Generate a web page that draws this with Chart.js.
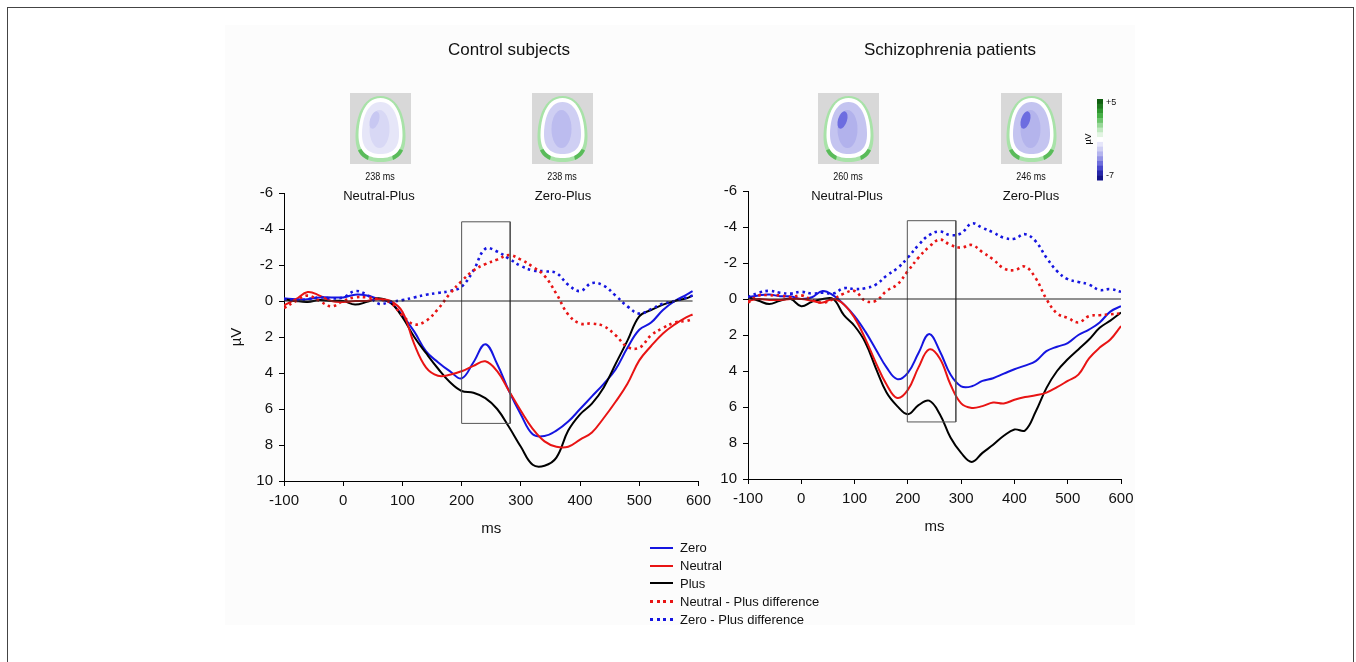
<!DOCTYPE html>
<html>
<head>
<meta charset="utf-8">
<script src="https://cdn.jsdelivr.net/npm/chart.js@4/dist/chart.umd.min.js"></script>
<style>
  body { margin: 0; background: #fff; width: 1356px; height: 662px; position: relative; overflow: hidden; font-family: "Liberation Sans", Arial, sans-serif; }
  .frame { position: absolute; left: 7px; top: 7px; width: 1347px; height: 700px; border: 1.5px solid #444; box-sizing: border-box; }
  .panel { position: absolute; left: 225px; top: 25px; width: 910px; height: 600px; background: #fcfcfc; }
  canvas { position: absolute; }
  .title { position: absolute; top: 40px; font-size: 17px; color: #111; transform: translateX(-50%); white-space: nowrap; }
  .ms { position: absolute; top: 171px; font-size: 10px; color: #111; transform: translateX(-50%) scaleX(0.9); white-space: nowrap; }
  .cond { position: absolute; top: 188px; font-size: 13px; color: #111; transform: translateX(-50%); white-space: nowrap; }
  .legend { position: absolute; left: 650px; top: 539px; font-size: 13px; color: #111; }
  .legend div { height: 17.8px; display: flex; align-items: center; }
  .legend span.ln { display: inline-block; width: 23px; margin-right: 7px; }
  .cb { position: absolute; font-size: 9px; color: #111; }
</style>
</head>
<body>
<div class="frame"></div>
<div class="panel"></div>
<canvas id="topo" width="1356" height="200" style="left:0;top:0"></canvas>
<div class="title" style="left:509px">Control subjects</div>
<div class="title" style="left:950px">Schizophrenia patients</div>
<div class="ms" style="left:380px">238 ms</div>
<div class="ms" style="left:562px">238 ms</div>
<div class="ms" style="left:848px">260 ms</div>
<div class="ms" style="left:1031px">246 ms</div>
<div class="cond" style="left:379px">Neutral-Plus</div>
<div class="cond" style="left:563px">Zero-Plus</div>
<div class="cond" style="left:847px">Neutral-Plus</div>
<div class="cond" style="left:1031px">Zero-Plus</div>
<div class="cb" style="left:1106px;top:97px">+5</div>
<div class="cb" style="left:1106px;top:170px">-7</div>
<div class="cb" style="left:1082px;top:134px;transform:rotate(-90deg)">µV</div>
<canvas id="controlChart" width="497" height="364" style="left:220px;top:178px"></canvas>
<canvas id="patientChart" width="425" height="364" style="left:715px;top:176px"></canvas>
<div class="legend">
  <div><span class="ln" style="border-top:2px solid #1515e0"></span>Zero</div>
  <div><span class="ln" style="border-top:2px solid #e81414"></span>Neutral</div>
  <div><span class="ln" style="border-top:2px solid #000"></span>Plus</div>
  <div><span class="ln" style="border-top:3px dotted #e81414"></span>Neutral - Plus difference</div>
  <div><span class="ln" style="border-top:3px dotted #1515e0"></span>Zero - Plus difference</div>
</div>
<script>
// time points (ms)
const controlTimes = [-100,-80,-60,-40,-20,0,20,40,60,80,100,120,140,160,180,200,220,240,260,280,300,320,340,360,380,400,420,440,460,480,500,520,540,560,580,590];
const patientTimes = [-100,-80,-60,-40,-20,0,20,40,60,80,100,120,140,160,180,200,220,240,260,280,300,320,340,360,380,400,420,440,460,480,500,520,540,560,580,600];

// Control subjects (µV)
const controlZero = [-0.15,-0.1,-0.1,-0.2,-0.2,-0.2,-0.35,-0.3,-0.1,0.1,0.8,1.7,2.8,3.4,3.9,4.3,3.4,2.4,3.5,5.0,6.3,7.4,7.5,7.2,6.7,6.0,5.3,4.6,3.8,2.6,1.6,1.2,0.5,0.0,-0.35,-0.55];
const controlNeutral = [0.25,-0.1,-0.5,-0.3,0.0,0.05,0.0,0.0,-0.1,0.0,0.6,2.4,3.7,4.15,4.1,3.9,3.6,3.35,3.9,5.0,6.1,7.1,7.8,8.1,8.1,7.7,7.3,6.5,5.6,4.6,3.3,2.5,1.8,1.3,0.9,0.75];
const controlPlus = [-0.1,0.0,0.05,-0.05,0.0,0.0,0.2,0.05,-0.15,0.1,0.9,2.0,2.9,3.75,4.5,5.0,5.1,5.4,6.0,7.0,8.1,9.1,9.15,8.7,7.2,6.3,5.7,4.8,3.5,2.2,0.85,0.5,0.2,0.0,-0.15,-0.3];
const controlNeutralDiff = [0.4,0.0,-0.3,0.0,0.3,0.0,-0.2,-0.2,-0.1,0.1,0.8,1.3,1.1,0.45,-0.4,-1.1,-1.7,-2.05,-2.3,-2.55,-2.3,-1.9,-1.4,-0.4,0.75,1.25,1.25,1.4,1.9,2.55,2.6,1.9,1.5,1.2,1.1,1.0];
const controlZeroDiff = [-0.1,-0.05,-0.1,-0.2,-0.15,-0.2,-0.55,-0.35,0.15,0.05,-0.05,-0.2,-0.35,-0.45,-0.55,-0.8,-1.7,-2.9,-2.75,-2.35,-1.95,-1.7,-1.65,-1.55,-0.9,-0.55,-1.0,-0.85,-0.3,0.3,0.7,0.45,0.15,0.0,-0.2,-0.3];

// Schizophrenia patients (µV)
const patientZero = [-0.1,-0.2,-0.25,-0.15,-0.15,0.0,-0.1,-0.45,-0.2,0.3,0.95,1.8,2.8,3.8,4.45,4.1,3.0,1.95,2.9,4.2,4.85,4.85,4.55,4.4,4.15,3.9,3.7,3.45,2.9,2.65,2.45,2.0,1.7,1.3,0.7,0.4];
const patientNeutral = [0.1,0.0,0.05,0.05,0.0,0.0,0.1,0.2,0.0,0.3,1.05,2.2,3.55,4.75,5.5,5.05,3.8,2.8,3.3,4.75,5.8,6.05,5.95,5.75,5.8,5.6,5.45,5.35,5.2,4.9,4.55,4.2,3.3,2.7,2.25,1.5];
const patientPlus = [-0.1,0.1,0.28,0.1,0.0,0.4,0.15,0.0,0.0,0.9,1.5,2.4,3.85,5.2,5.95,6.4,5.9,5.65,6.4,7.7,8.55,9.05,8.55,8.1,7.6,7.25,7.3,6.25,4.95,4.0,3.35,2.8,2.25,1.6,1.2,0.75];
const patientNeutralDiff = [0.2,-0.2,-0.2,-0.2,-0.1,-0.2,0.05,0.2,0.0,-0.3,-0.45,0.1,0.1,-0.45,-0.8,-1.55,-2.3,-2.9,-3.3,-3.0,-2.85,-3.0,-2.6,-2.2,-1.7,-1.6,-1.8,-1.15,0.0,0.8,1.05,1.3,0.95,0.9,0.85,0.8];
const patientZeroDiff = [-0.1,-0.35,-0.45,-0.35,-0.3,-0.4,-0.3,-0.35,-0.3,-0.6,-0.55,-0.6,-0.8,-1.3,-1.7,-2.3,-3.0,-3.55,-3.75,-3.55,-3.65,-4.2,-3.95,-3.7,-3.4,-3.35,-3.6,-3.2,-2.3,-1.55,-1.1,-0.95,-0.8,-0.5,-0.55,-0.4];

// analysis window [start, end, top, bottom]
const controlWindow = [200, 282, -4.4, 6.8];
const patientWindow = [199, 290, -4.35, 6.83];

const xTicks = [-100, 0, 100, 200, 300, 400, 500, 600];
const yTicks = [-6, -4, -2, 0, 2, 4, 6, 8, 10];

const BLUE = '#1515e0', RED = '#e81414', BLACK = '#000';

function pts(times, vals) {
    return times.map((t, i) => ({ x: t, y: vals[i] }));
}

function windowBox(w) {
    return [{x: w[0], y: w[2]}, {x: w[1], y: w[2]}, {x: w[1], y: w[3]}, {x: w[0], y: w[3]}, {x: w[0], y: w[2]}];
}

function makeChart(id, times, zero, neutral, plus, nDiff, zDiff, win, opts) {
    const solid = (d, c) => ({ data: d, borderColor: c, borderWidth: 2, pointRadius: 0, tension: 0.4, fill: false });
    const dotted = (d, c) => ({ data: d, borderColor: c, borderWidth: 2.6, borderDash: [2.6, 3.6], pointRadius: 0, tension: 0.4, fill: false });
    const last = times[times.length - 1];
    return new Chart(document.getElementById(id), {
        type: 'line',
        data: {
            datasets: [
                { data: [{x: -100, y: 0}, {x: last, y: 0}], borderColor: '#222', borderWidth: 1, pointRadius: 0, tension: 0 },
                { data: windowBox(win), borderColor: '#555', borderWidth: 1, pointRadius: 0, tension: 0 },
                dotted(pts(times, nDiff), RED),
                dotted(pts(times, zDiff), BLUE),
                solid(pts(times, neutral), RED),
                solid(pts(times, plus), BLACK),
                solid(pts(times, zero), BLUE)
            ]
        },
        options: {
            responsive: false,
            animation: false,
            layout: { padding: { top: 6, right: opts.right, left: 0, bottom: 0 } },
            plugins: { legend: { display: false }, tooltip: { enabled: false } },
            scales: {
                x: {
                    type: 'linear', min: -100, max: 600,
                    afterBuildTicks: s => { s.ticks = xTicks.map(v => ({ value: v })); },
                    afterFit: s => { s.height = 61; },
                    grid: { drawOnChartArea: false, drawTicks: true, tickLength: 5, color: '#000' },
                    border: { color: '#000', width: 1 },
                    ticks: { color: '#111', font: { size: 15, family: 'Liberation Sans' }, padding: 6, maxRotation: 0 },
                    title: { display: true, text: 'ms', color: '#111', font: { size: 15, family: 'Liberation Sans' }, padding: { top: 0, bottom: 4 } }
                },
                y: {
                    reverse: true, min: -6, max: 10,
                    afterBuildTicks: s => { s.ticks = yTicks.map(v => ({ value: v })); },
                    afterFit: s => { s.width = opts.yWidth; },
                    grid: { drawOnChartArea: false, drawTicks: true, tickLength: 5, color: '#000' },
                    border: { color: '#000', width: 1 },
                    ticks: { color: '#111', font: { size: 15, family: 'Liberation Sans' }, padding: 6 },
                    title: { display: opts.yTitle, text: 'µV', color: '#111', font: { size: 15, family: 'Liberation Sans' }, padding: { top: 8, bottom: 0 } }
                }
            }
        }
    });
}

makeChart('controlChart', controlTimes, controlZero, controlNeutral, controlPlus, controlNeutralDiff, controlZeroDiff, controlWindow, { right: 17, yWidth: 64, yTitle: true });
makeChart('patientChart', patientTimes, patientZero, patientNeutral, patientPlus, patientNeutralDiff, patientZeroDiff, patientWindow, { right: 19, yWidth: 33, yTitle: false });

// scalp maps (decoration)
function eggPath(ctx, cx, top, bottom, halfW) {
    const h = bottom - top;
    ctx.beginPath();
    ctx.moveTo(cx, top);
    ctx.bezierCurveTo(cx + halfW * 0.75, top, cx + halfW, top + h * 0.35, cx + halfW, top + h * 0.62);
    ctx.bezierCurveTo(cx + halfW, top + h * 0.9, cx + halfW * 0.6, bottom, cx, bottom);
    ctx.bezierCurveTo(cx - halfW * 0.6, bottom, cx - halfW, top + h * 0.9, cx - halfW, top + h * 0.62);
    ctx.bezierCurveTo(cx - halfW, top + h * 0.35, cx - halfW * 0.75, top, cx, top);
    ctx.closePath();
}

function drawHead(ctx, x, y, inner, blob, blobDark) {
    const w = 61, h = 71, cx = x + w / 2;
    ctx.fillStyle = '#d8d8d8';
    ctx.fillRect(x, y, w, h);
    eggPath(ctx, cx, y + 3, y + h - 2, 25);
    ctx.fillStyle = '#a8e2a8';
    ctx.fill();
    ctx.save();
    ctx.clip();
    ctx.fillStyle = '#5abb5a';
    ctx.beginPath(); ctx.ellipse(cx - 19, y + h - 7, 7, 8, 0.4, 0, Math.PI * 2); ctx.fill();
    ctx.beginPath(); ctx.ellipse(cx + 19, y + h - 7, 7, 8, -0.4, 0, Math.PI * 2); ctx.fill();
    ctx.restore();
    eggPath(ctx, cx, y + 5, y + h - 6, 22);
    ctx.fillStyle = '#ffffff';
    ctx.fill();
    eggPath(ctx, cx, y + 9, y + h - 10, 18.5);
    ctx.fillStyle = inner;
    ctx.fill();
    ctx.fillStyle = blob;
    ctx.beginPath(); ctx.ellipse(cx - 1, y + 36, 10, 19, 0, 0, Math.PI * 2); ctx.fill();
    if (blobDark) {
        ctx.fillStyle = blobDark;
        ctx.beginPath(); ctx.ellipse(cx - 6, y + 27, 4.5, 9, 0.3, 0, Math.PI * 2); ctx.fill();
    }
}

const topo = document.getElementById('topo').getContext('2d');
drawHead(topo, 350, 93, '#e6e6f8', '#d8d8f5', '#c8c8f2');
drawHead(topo, 532, 93, '#cfcff3', '#bcbcef', null);
drawHead(topo, 818, 93, '#c4c4f0', '#b2b2ec', '#6d6de0');
drawHead(topo, 1001, 93, '#c4c4f0', '#b4b4ec', '#6d6de0');

const cbColors = ['#0f5e0f','#1f7a1f','#2f962f','#46b046','#6cc46c','#98d898','#c0e8c0','#e2f4e2','#ffffff','#e6e6fa','#cfcff4','#b4b4ee','#9494e6','#6e6edc','#4848cc','#2626aa','#14148a'];
const cbTop = 99, cbBottom = 180;
const seg = (cbBottom - cbTop) / cbColors.length;
cbColors.forEach((c, i) => {
    topo.fillStyle = c;
    topo.fillRect(1097, cbTop + i * seg, 6, seg + 0.5);
});
</script>
</body>
</html>
